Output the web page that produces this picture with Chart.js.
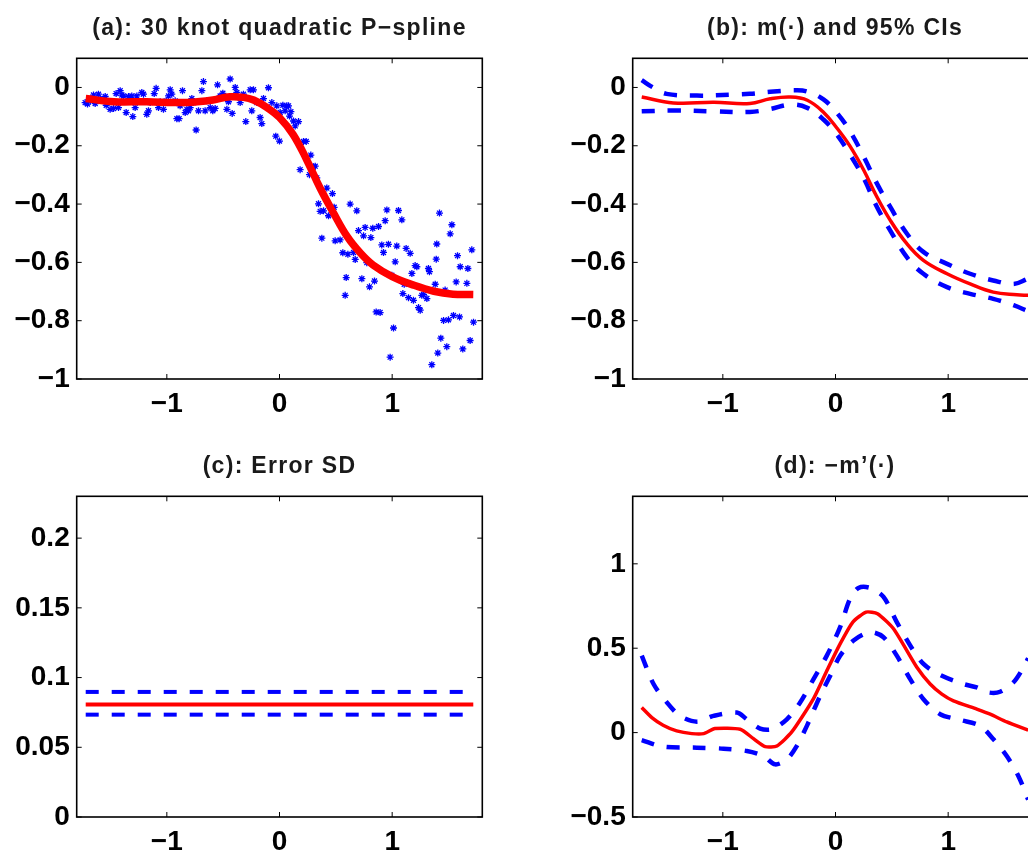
<!DOCTYPE html>
<html>
<head>
<meta charset="utf-8">
<title>P-spline panels</title>
<script src="https://cdn.jsdelivr.net/npm/chart.js@4.4.0/dist/chart.umd.min.js"></script>
<style>
  body { margin:0; width:1028px; height:854px; overflow:hidden; background:#fff; position:relative; font-family:"Liberation Sans", Arial, sans-serif; }
  .panel { position:absolute; width:500px; height:430px; }
  .panel canvas { position:absolute; left:0; top:0; }
  .title { position:absolute; left:76.7px; width:405.6px; top:16px; text-align:center; font-weight:bold; font-size:23px; line-height:23px; letter-spacing:1.3px; color:#1a1a1a; white-space:nowrap; }
</style>
</head>
<body>
<div class="panel" style="left:0;top:0"><canvas id="ca" width="500" height="430"></canvas><div class="title">(a): 30 knot quadratic P−spline</div></div>
<div class="panel" style="left:555.6px;top:0"><canvas id="cb" width="500" height="430"></canvas><div class="title">(b): m(·) and 95% CIs</div></div>
<div class="panel" style="left:0;top:438.4px"><canvas id="cc" width="500" height="430"></canvas><div class="title">(c): Error SD</div></div>
<div class="panel" style="left:555.6px;top:438.4px"><canvas id="cd" width="500" height="430"></canvas><div class="title">(d): −m’(·)</div></div>
<script>
// tick values and labels
var xTicks = [-1, 0, 1];
var xTickLabels = ['\u22121', '0', '1'];
var yTicksAB = [-1, -0.8, -0.6, -0.4, -0.2, 0];
var yTickLabelsAB = ['\u22121', '\u22120.8', '\u22120.6', '\u22120.4', '\u22120.2', '0'];
var yTicksC = [0, 0.05, 0.1, 0.15, 0.2];
var yTickLabelsC = ['0', '0.05', '0.1', '0.15', '0.2'];
var yTicksD = [-0.5, 0, 0.5, 1];
var yTickLabelsD = ['\u22120.5', '0', '0.5', '1'];

// (a) observations
var scatterX = [-1.725,-1.704,-1.680,-1.651,-1.636,-1.607,-1.592,-1.547,-1.538,-1.503,-1.473,-1.450,-1.429,-1.414,-1.399,-1.385,-1.361,-1.340,-1.325,-1.311,
  -1.302,-1.281,-1.266,-1.222,-1.207,-1.178,-1.163,-1.148,-1.112,-1.095,-1.074,-1.059,-1.030,-1.006,-0.985,-0.970,-0.956,-0.926,-0.911,-0.891,
  -0.882,-0.861,-0.837,-0.822,-0.808,-0.793,-0.778,-0.763,-0.740,-0.719,-0.689,-0.675,-0.660,-0.645,-0.615,-0.592,-0.571,-0.550,-0.527,-0.503,
  -0.467,-0.453,-0.438,-0.420,-0.393,-0.379,-0.349,-0.320,-0.299,-0.260,-0.246,-0.231,-0.201,-0.172,-0.157,-0.142,-0.098,-0.068,-0.033,-0.024,
  0.000,0.006,0.030,0.050,0.065,0.080,0.089,0.101,0.124,0.139,0.169,0.183,0.213,0.237,0.266,0.278,0.302,0.317,0.331,0.346,
  0.361,0.376,0.391,0.420,0.435,0.470,0.485,0.494,0.538,0.562,0.583,0.592,0.607,0.627,0.657,0.672,0.686,0.701,0.731,0.746,
  0.760,0.775,0.799,0.811,0.828,0.843,0.858,0.879,0.893,0.908,0.923,0.938,0.953,0.967,0.997,1.012,1.027,1.041,1.056,1.086,
  1.095,1.107,1.124,1.145,1.160,1.175,1.189,1.204,1.219,1.234,1.249,1.263,1.278,1.308,1.322,1.331,1.382,1.391,1.396,1.405,
  1.420,1.432,1.456,1.470,1.485,1.500,1.515,1.530,1.544,1.568,1.580,1.598,1.604,1.627,1.663,1.672,1.692,1.707,1.722,1.352,0.982];
var scatterY = [-0.052,-0.057,-0.046,-0.026,-0.055,-0.023,-0.038,-0.031,-0.061,-0.075,-0.072,-0.021,-0.069,-0.011,-0.026,-0.029,-0.086,-0.031,-0.038,-0.029,
  -0.100,-0.069,-0.029,-0.017,-0.023,-0.092,-0.080,-0.052,-0.021,-0.003,-0.069,-0.049,-0.075,-0.046,-0.029,-0.008,-0.023,-0.046,-0.107,-0.107,
  -0.063,-0.011,-0.086,-0.075,-0.080,-0.069,-0.038,-0.052,-0.146,-0.080,-0.011,0.020,-0.080,-0.046,-0.069,-0.080,-0.072,0.009,-0.029,-0.020,
  -0.075,-0.049,0.029,-0.089,0.000,-0.017,-0.052,-0.023,-0.117,-0.008,-0.080,-0.008,-0.052,-0.103,-0.124,-0.038,-0.001,-0.052,-0.167,-0.063,
  -0.184,-0.086,-0.061,-0.080,-0.063,-0.063,-0.098,-0.083,-0.115,-0.132,-0.117,-0.282,-0.185,-0.185,-0.299,-0.232,-0.272,-0.270,-0.310,-0.399,
  -0.425,-0.517,-0.423,-0.345,-0.440,-0.364,-0.411,-0.526,-0.523,-0.567,-0.713,-0.652,-0.572,-0.400,-0.566,-0.590,-0.423,-0.491,-0.656,-0.509,
  -0.480,-0.601,-0.684,-0.515,-0.483,-0.664,-0.770,-0.477,-0.772,-0.540,-0.566,-0.457,-0.420,-0.538,-0.644,-0.825,-0.598,-0.544,-0.422,-0.454,
  -0.707,-0.675,-0.552,-0.721,-0.569,-0.638,-0.730,-0.611,-0.615,-0.755,-0.764,-0.713,-0.710,-0.724,-0.621,-0.632,-0.675,-0.589,-0.537,-0.911,
  -0.431,-0.860,-0.799,-0.695,-0.889,-0.797,-0.502,-0.471,-0.782,-0.667,-0.577,-0.787,-0.615,-0.897,-0.672,-0.621,-0.868,-0.557,-0.805,-0.951,-0.925];

// (a) fitted spline
var fitX = [-1.72,-1.47,-1.18,-0.88,-0.73,-0.59,-0.44,-0.32,-0.23,-0.11,0.0,0.12,0.24,0.36,0.48,0.6,0.72,0.83,1.0,1.19,1.37,1.54,1.72];
var fitY = [-0.038,-0.049,-0.049,-0.052,-0.049,-0.043,-0.032,-0.034,-0.043,-0.069,-0.103,-0.161,-0.247,-0.345,-0.431,-0.511,-0.569,-0.609,-0.649,-0.678,-0.699,-0.709,-0.710];

// (b) m and 95% CIs
var mX = [-1.72,-1.44,-1.08,-0.76,-0.58,-0.40,-0.25,-0.107,0.012,0.13,0.25,0.367,0.485,0.633,0.78,0.99,1.195,1.40,1.61,1.71];
var mY = [-0.033,-0.053,-0.051,-0.055,-0.039,-0.033,-0.044,-0.085,-0.139,-0.202,-0.283,-0.375,-0.455,-0.536,-0.593,-0.639,-0.674,-0.702,-0.711,-0.713];
var mUpX = [-1.72,-1.615,-1.50,-1.23,-0.935,-0.76,-0.58,-0.37,-0.25,-0.107,0.012,0.13,0.25,0.367,0.485,0.633,0.78,0.99,1.195,1.40,1.58,1.71];
var mUpY = [0.025,-0.001,-0.022,-0.028,-0.025,-0.022,-0.015,-0.010,-0.014,-0.041,-0.087,-0.151,-0.237,-0.329,-0.409,-0.501,-0.564,-0.605,-0.639,-0.662,-0.674,-0.656];
var mLowX = [-1.72,-1.44,-1.08,-0.76,-0.58,-0.40,-0.25,-0.107,0.012,0.13,0.25,0.367,0.485,0.633,0.78,0.99,1.195,1.40,1.58,1.71];
var mLowY = [-0.082,-0.079,-0.082,-0.084,-0.074,-0.059,-0.070,-0.110,-0.162,-0.231,-0.311,-0.409,-0.490,-0.582,-0.639,-0.685,-0.708,-0.725,-0.747,-0.768];

// (c) error SD and limits
var sdX = [-1.72, 1.72];
var sdY = [0.0806, 0.0806];
var sdUpY = [0.0897, 0.0897];
var sdLowY = [0.0734, 0.0734];

// (d) -m' and limits
var dX = [-1.72,-1.63,-1.53,-1.41,-1.275,-1.17,-1.07,-0.846,-0.728,-0.624,-0.52,-0.388,-0.195,-0.077,0.041,0.154,0.272,0.373,0.515,0.722,0.84,0.944,1.047,1.254,1.373,1.52,1.71];
var dY = [0.149,0.089,0.044,0.010,-0.006,-0.006,0.024,0.020,-0.036,-0.083,-0.079,0.004,0.202,0.367,0.526,0.655,0.714,0.704,0.615,0.387,0.288,0.228,0.188,0.139,0.109,0.063,0.014];
var dUpX = [-1.72,-1.615,-1.497,-1.38,-1.23,-1.083,-0.876,-0.787,-0.669,-0.565,-0.432,-0.314,-0.195,-0.077,0.041,0.13,0.204,0.308,0.426,0.544,0.663,0.781,0.929,1.136,1.254,1.358,1.461,1.58,1.669,1.71];
var dUpY = [0.456,0.288,0.179,0.099,0.065,0.099,0.119,0.079,0.024,0.020,0.079,0.179,0.317,0.456,0.625,0.794,0.857,0.857,0.804,0.655,0.516,0.407,0.341,0.288,0.268,0.238,0.242,0.298,0.387,0.44];
var dLowX = [-1.72,-1.53,-1.23,-0.994,-0.787,-0.639,-0.536,-0.432,-0.343,-0.254,-0.136,-0.047,0.041,0.16,0.308,0.426,0.544,0.663,0.781,0.929,1.107,1.284,1.402,1.52,1.624,1.71];
var dLowY = [-0.044,-0.083,-0.089,-0.095,-0.109,-0.139,-0.188,-0.159,-0.079,0.040,0.218,0.337,0.456,0.546,0.595,0.565,0.456,0.317,0.198,0.109,0.075,0.040,-0.040,-0.139,-0.258,-0.397];

var RED = '#ff0000';
var BLUE = '#0000ff';
var FONT = { family: '"Liberation Sans", Arial, sans-serif', size: 28, weight: 'bold' };

function pts(xs, ys) {
  return xs.map(function(x, i) { return { x: x, y: ys[i] }; });
}

function line(xs, ys, color, width, dashed, tension) {
  return {
    data: pts(xs, ys),
    showLine: true,
    borderColor: color,
    backgroundColor: color,
    borderWidth: width,
    borderDash: dashed ? [13, 13] : [],
    pointRadius: 0,
    pointHoverRadius: 0,
    tension: tension || 0,
    fill: false
  };
}

// box round the plot with inward ticks on all four sides
var boxPlugin = {
  id: 'matlabBox',
  afterDraw: function(chart) {
    var a = chart.chartArea, ctx = chart.ctx;
    var xs = chart.scales.x, ys = chart.scales.y;
    ctx.save();
    ctx.strokeStyle = '#000';
    ctx.lineWidth = 1;
    ctx.beginPath();
    xs.ticks.forEach(function(t) {
      var p = xs.getPixelForValue(t.value);
      ctx.moveTo(p, a.bottom); ctx.lineTo(p, a.bottom - 5);
      ctx.moveTo(p, a.top); ctx.lineTo(p, a.top + 5);
    });
    ys.ticks.forEach(function(t) {
      var p = ys.getPixelForValue(t.value);
      ctx.moveTo(a.left, p); ctx.lineTo(a.left + 5, p);
      ctx.moveTo(a.right, p); ctx.lineTo(a.right - 5, p);
    });
    ctx.stroke();
    ctx.lineWidth = 1.6;
    ctx.strokeRect(a.left, a.top, a.right - a.left, a.bottom - a.top);
    ctx.restore();
  }
};

function makeChart(id, yMin, yMax, yTicks, yLabels, datasets) {
  return new Chart(document.getElementById(id), {
    type: 'scatter',
    data: { datasets: datasets },
    plugins: [boxPlugin],
    options: {
      responsive: false,
      animation: false,
      events: [],
      layout: { padding: { left: 0, right: 17.7, top: 58.3, bottom: 0 } },
      plugins: { legend: { display: false }, tooltip: { enabled: false }, title: { display: false } },
      scales: {
        x: {
          type: 'linear', min: -1.8, max: 1.8,
          afterBuildTicks: function(s) { s.ticks = xTicks.map(function(v) { return { value: v }; }); },
          afterFit: function(s) { s.height = 51; },
          grid: { display: false, drawTicks: false },
          border: { display: false },
          ticks: { padding: 8, color: '#000', font: FONT, maxRotation: 0, autoSkip: false,
            callback: function(v, i) { return xTickLabels[i]; } }
        },
        y: {
          type: 'linear', min: yMin, max: yMax,
          afterBuildTicks: function(s) { s.ticks = yTicks.map(function(v) { return { value: v }; }); },
          afterFit: function(s) { s.width = 76.7; },
          grid: { display: false, drawTicks: false },
          border: { display: false },
          ticks: { padding: 7, color: '#000', font: FONT, autoSkip: false,
            callback: function(v, i) { return yLabels[i]; } }
        }
      }
    }
  });
}

makeChart('ca', -1, 0.1, yTicksAB, yTickLabelsAB, [
  line(fitX, fitY, RED, 7.5, false, 0.4),
  {
    data: pts(scatterX, scatterY),
    showLine: false,
    pointStyle: 'star',
    pointRadius: 3.5,
    borderWidth: 1.3,
    borderColor: BLUE,
    backgroundColor: BLUE
  }
]);

makeChart('cb', -1, 0.1, yTicksAB, yTickLabelsAB, [
  line(mX, mY, RED, 3.5, false, 0.4),
  line(mUpX, mUpY, BLUE, 4.5, true, 0.4),
  line(mLowX, mLowY, BLUE, 4.5, true, 0.4)
]);

makeChart('cc', 0, 0.23, yTicksC, yTickLabelsC, [
  line(sdX, sdY, RED, 4, false),
  line(sdX, sdUpY, BLUE, 4, true),
  line(sdX, sdLowY, BLUE, 4, true)
]);

makeChart('cd', -0.5, 1.4, yTicksD, yTickLabelsD, [
  line(dX, dY, RED, 3.5, false, 0.2),
  line(dUpX, dUpY, BLUE, 4.5, true, 0.3),
  line(dLowX, dLowY, BLUE, 4.5, true, 0.3)
]);
</script>
</body>
</html>
